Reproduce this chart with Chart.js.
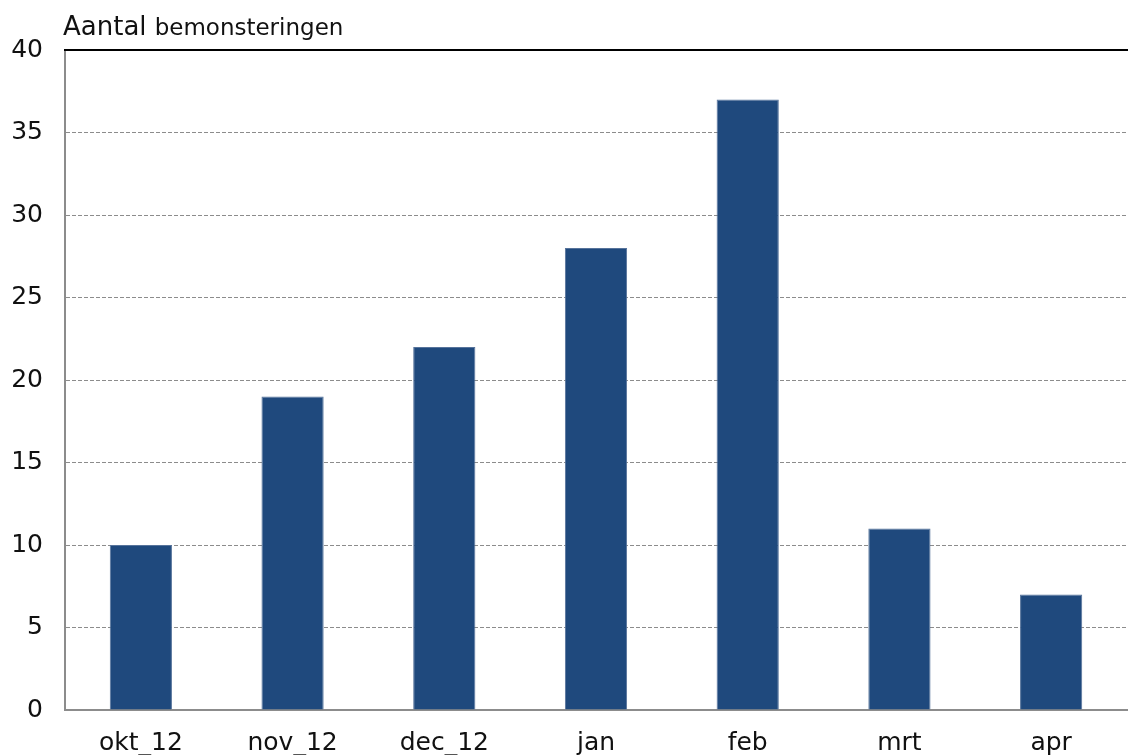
<!DOCTYPE html>
<html><head><meta charset="utf-8">
<script src="https://cdn.jsdelivr.net/npm/chart.js@4/dist/chart.umd.min.js"></script>
<style>
html,body{margin:0;padding:0;background:#fff;}
#wrap{position:relative;width:1130px;height:755px;}
#title{position:absolute;left:63px;top:13px;font-family:"DejaVu Sans",sans-serif;color:#111;white-space:nowrap;line-height:1;}
#title .big{font-size:26px;}
#title .small{font-size:23px;margin-left:3px;}
</style></head>
<body><div id="wrap"><canvas id="c" width="1130" height="755"></canvas>
<div id="title"><span class="big">Aantal</span> <span class="small">bemonsteringen</span></div></div>
<script>
const categories = ["okt_12","nov_12","dec_12","jan","feb","mrt","apr"];
const values = [10,19,22,28,37,11,7];
const yTicks = [0,5,10,15,20,25,30,35,40];

new Chart(document.getElementById('c'), {
  type:'bar',
  data:{labels:categories, datasets:[{data:values, backgroundColor:'#1F497D', borderColor:'#56739b', borderWidth:{top:1,left:1,right:1,bottom:0}, barPercentage:0.41, categoryPercentage:1}]},
  options:{
    responsive:false, animation:false,
    layout:{padding:{left:0,right:3,top:50,bottom:0}},
    plugins:{legend:{display:false}, tooltip:{enabled:false}},
    scales:{
      y:{min:0,max:40,
        afterBuildTicks:(s)=>{s.ticks=yTicks.map(v=>({value:v}));},
        afterFit:(s)=>{s.width=65;},
        ticks:{padding:22,color:'#111',font:{family:'DejaVu Sans',size:25}},
        grid:{drawTicks:false,color:(ctx)=>(ctx.tick && (ctx.tick.value===0||ctx.tick.value===40))?'rgba(0,0,0,0)':'#8c8c8c',lineWidth:1},
        border:{display:true,color:'#8c8c8c',width:2,dash:[4,2]}
      },
      x:{
        afterFit:(s)=>{s.height=45;},
        ticks:{padding:18,color:'#111',font:{family:'DejaVu Sans',size:25}},
        grid:{display:false,drawTicks:false},
        border:{display:true,color:'#8c8c8c',width:2}
      },
      xTop:{position:'top',type:'category',labels:categories,
        afterFit:(s)=>{s.height=0;},
        ticks:{display:false},
        grid:{display:false,drawTicks:false},
        border:{display:true,color:'#000',width:2}
      }
    }
  }
});
</script></body></html>
